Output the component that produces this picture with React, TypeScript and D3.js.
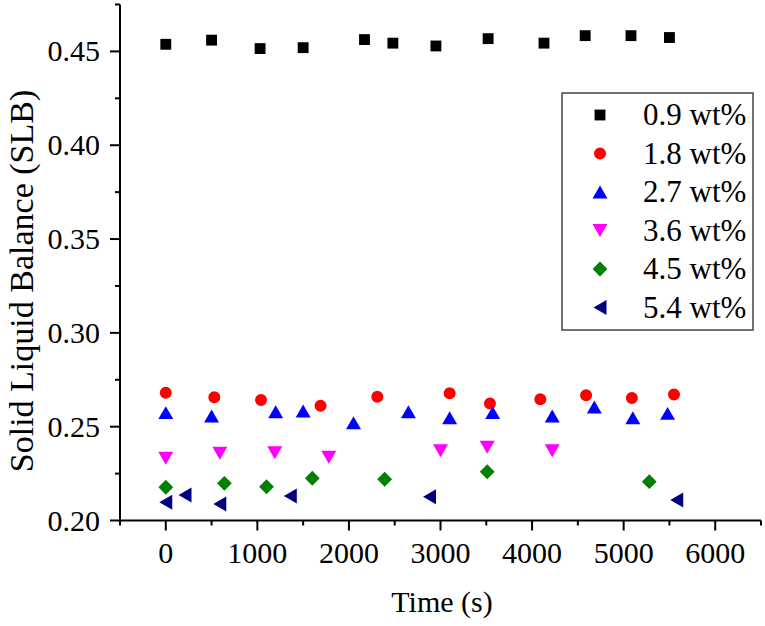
import React from 'react';
import * as d3 from 'd3';

// time (s) and SLB values, one pair of arrays per loading
const time09 = [0, 500, 1030, 1500, 2170, 2480, 2950, 3520, 4130, 4580, 5080, 5500];
const slb09 = [0.4538, 0.456, 0.4515, 0.452, 0.4563, 0.4544, 0.4529, 0.4568, 0.4544, 0.4584, 0.4584, 0.4574];

const time18 = [0, 530, 1040, 1690, 2310, 3100, 3540, 4090, 4590, 5090, 5550];
const slb18 = [0.2681, 0.2657, 0.2642, 0.2612, 0.266, 0.2678, 0.2623, 0.2646, 0.2667, 0.2653, 0.2671];

const time27 = [0, 500, 1200, 1500, 2050, 2650, 3100, 3570, 4220, 4680, 5100, 5480];
const slb27 = [0.2575, 0.2557, 0.258, 0.2584, 0.2521, 0.258, 0.2548, 0.2575, 0.2557, 0.2605, 0.2548, 0.2571];

const time36 = [0, 590, 1190, 1780, 3000, 3510, 4220];
const slb36 = [0.2332, 0.2358, 0.2361, 0.2337, 0.2372, 0.239, 0.2372];

const time45 = [0, 640, 1100, 1600, 2390, 3510, 5280];
const slb45 = [0.2177, 0.2198, 0.218, 0.2225, 0.222, 0.226, 0.2207];

const time54 = [0, 210, 590, 1360, 2880, 5580];
const slb54 = [0.2097, 0.2136, 0.2088, 0.2131, 0.2127, 0.2109];

const seriesLabels = ['0.9 wt%', '1.8 wt%', '2.7 wt%', '3.6 wt%', '4.5 wt%', '5.4 wt%'];

const xMajorTicks = [0, 1000, 2000, 3000, 4000, 5000, 6000];
const xMinorTicks = [-500, 500, 1500, 2500, 3500, 4500, 5500, 6500];
const yMajorTicks = [0.2, 0.25, 0.3, 0.35, 0.4, 0.45];
const yMinorTicks = [0.225, 0.275, 0.325, 0.375, 0.425, 0.475];

const FONT = '"Liberation Serif", "Times New Roman", Times, serif';

type Marker = 'square' | 'circle' | 'up' | 'down' | 'diamond' | 'left';

interface Series {
  times: number[];
  values: number[];
  color: string;
  marker: Marker;
}

const SERIES: Series[] = [
  { times: time09, values: slb09, color: '#000000', marker: 'square' },
  { times: time18, values: slb18, color: '#ff0000', marker: 'circle' },
  { times: time27, values: slb27, color: '#0000ff', marker: 'up' },
  { times: time36, values: slb36, color: '#ff00ff', marker: 'down' },
  { times: time45, values: slb45, color: '#008000', marker: 'diamond' },
  { times: time54, values: slb54, color: '#000080', marker: 'left' },
];

// triangle side 15px -> height ~13px; shift so the bounding box sits on the point
const TRI_AREA = 97;
const TRI_H = 13;

function markerPath(m: Marker): string {
  switch (m) {
    case 'square':
      return d3.symbol(d3.symbolSquare, 118)() || '';
    case 'circle':
      return d3.symbol(d3.symbolCircle, 113)() || '';
    case 'diamond':
      return d3.symbol(d3.symbolSquare, 110)() || '';
    default:
      return d3.symbol(d3.symbolTriangle, TRI_AREA)() || '';
  }
}

function markerTransform(m: Marker, x: number, y: number): string {
  if (m === 'up') return `translate(${x},${y + TRI_H / 6})`;
  if (m === 'down') return `translate(${x},${y - TRI_H / 6}) rotate(180)`;
  if (m === 'left') return `translate(${x + TRI_H / 6},${y}) rotate(-90)`;
  if (m === 'diamond') return `translate(${x},${y}) rotate(45)`;
  return `translate(${x},${y})`;
}

export default function App() {
  const width = 765;
  const height = 626;

  const x = d3.scaleLinear().domain([-500, 6500]).range([120, 761]);
  const y = d3.scaleLinear().domain([0.2, 0.475]).range([520.5, 4.5]);

  const axisY = y(0.2);
  const axisX = x(-500);

  const legendX = 562;
  const legendY = 93;
  const rowH = 38.5;

  return (
    <svg
      width={width}
      height={height}
      style={{ position: 'absolute', left: 0, top: 0, background: '#fff' }}
      fontFamily={FONT}
    >
      {/* axes */}
      <line x1={axisX} x2={x(6500)} y1={axisY} y2={axisY} stroke="#000" strokeWidth={2} />
      <line x1={axisX} x2={axisX} y1={axisY} y2={y(0.475)} stroke="#000" strokeWidth={2} />

      {xMajorTicks.map((t) => (
        <g key={'xt' + t}>
          <line x1={x(t)} x2={x(t)} y1={axisY} y2={axisY + 10} stroke="#000" strokeWidth={2} />
          <text x={x(t)} y={563} fontSize={30} textAnchor="middle">{t}</text>
        </g>
      ))}
      {xMinorTicks.map((t) => (
        <line key={'xm' + t} x1={x(t)} x2={x(t)} y1={axisY} y2={axisY + 5} stroke="#000" strokeWidth={2} />
      ))}

      {yMajorTicks.map((t) => (
        <g key={'yt' + t}>
          <line x1={axisX - 10} x2={axisX} y1={y(t)} y2={y(t)} stroke="#000" strokeWidth={2} />
          <text x={100} y={y(t) + 10} fontSize={30} textAnchor="end">{t.toFixed(2)}</text>
        </g>
      ))}
      {yMinorTicks.map((t) => (
        <line key={'ym' + t} x1={axisX - 5} x2={axisX} y1={y(t)} y2={y(t)} stroke="#000" strokeWidth={2} />
      ))}

      <text x={442} y={612} fontSize={30} textAnchor="middle">Time (s)</text>
      <text transform="translate(33,281) rotate(-90)" fontSize={34} textAnchor="middle">
        Solid Liquid Balance (SLB)
      </text>

      {/* points */}
      {SERIES.map((s, si) => (
        <g key={'s' + si} fill={s.color}>
          {s.times.map((t, i) => (
            <path key={i} d={markerPath(s.marker)} transform={markerTransform(s.marker, x(t), y(s.values[i]))} />
          ))}
        </g>
      ))}

      {/* legend */}
      <rect x={legendX} y={legendY} width={191} height={237} fill="#fff" stroke="#444" strokeWidth={1.5} />
      {SERIES.map((s, si) => {
        const cy = legendY + 22 + si * rowH;
        return (
          <g key={'l' + si}>
            <path d={markerPath(s.marker)} transform={markerTransform(s.marker, 600, cy)} fill={s.color} />
            <text x={643} y={cy + 10} fontSize={31}>{seriesLabels[si]}</text>
          </g>
        );
      })}
    </svg>
  );
}
